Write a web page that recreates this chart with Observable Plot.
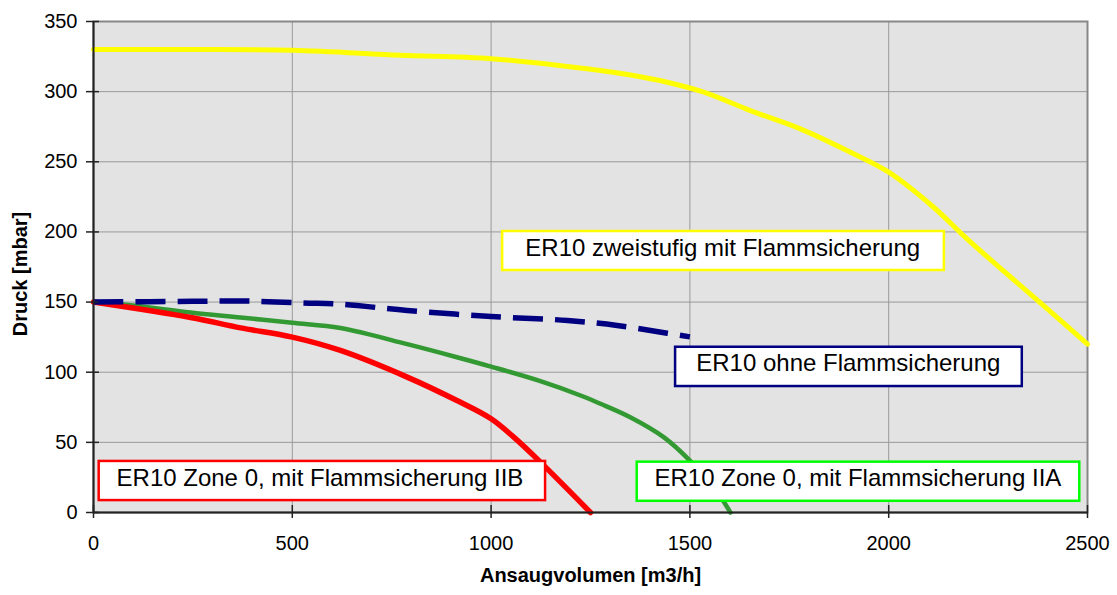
<!DOCTYPE html>
<html><head><meta charset="utf-8">
<script src="https://cdn.jsdelivr.net/npm/d3@7"></script>
<script src="https://cdn.jsdelivr.net/npm/@observablehq/plot@0.6"></script>
<style>
html,body{margin:0;padding:0;background:#fff;}
#chart svg{display:block;}
</style></head><body><div id="chart"></div>
<script>
// Axis ticks
const xTicks = [0, 500, 1000, 1500, 2000, 2500];
const yTicks = [0, 50, 100, 150, 200, 250, 300, 350];
const xTitle = "Ansaugvolumen [m3/h]";
const yTitle = "Druck [mbar]";

// Series: ER10 zweistufig mit Flammsicherung (yellow)
const yellowX = [0, 250, 500, 772, 1000, 1275, 1358, 1443, 1535, 1652, 1778, 1904, 2000, 2113, 2197, 2365, 2500];
const yellowY = [330, 330, 329.5, 326, 323.5, 315, 311.5, 306.7, 299.6, 286.5, 273.5, 256.8, 242.6, 217.6, 195, 153.5, 120];

// Series: ER10 ohne Flammsicherung (navy, dashed)
const blueX = [0, 250, 387, 528, 621, 789, 1000, 1192, 1317, 1443, 1500];
const blueY = [150, 150.5, 150.7, 149.3, 148.5, 144, 139.7, 136.9, 133.3, 127.8, 125.2];

// Series: ER10 Zone 0, mit Flammsicherung IIA (green)
const greenX = [0, 100, 244, 370, 500, 621, 789, 914, 1000, 1124, 1225, 1275, 1350, 1434, 1500, 1560, 1602];
const greenY = [150, 147.5, 142.6, 139, 135.2, 131.5, 120, 110.7, 104, 93.6, 83.4, 77.5, 67.9, 53.7, 37, 18, 0];

// Series: ER10 Zone 0, mit Flammsicherung IIB (red)
const redX = [0, 244, 370, 500, 621, 789, 914, 1000, 1057, 1124, 1250];
const redY = [150, 139, 131.6, 125, 115.5, 96.5, 79.8, 66.8, 53.7, 35.9, 0];

// Label annotations (box extents and text anchor in data units)
const labels = [
  {text: "ER10 zweistufig mit Flammsicherung", color: "#ffff00", x1: 1029, x2: 2140, y1: 172.5, y2: 200.3, tx: 1086, ty: 188},
  {text: "ER10 ohne Flammsicherung", color: "#000080", x1: 1464, x2: 2336, y1: 89.8, y2: 117.8, tx: 1516, ty: 106},
  {text: "ER10 Zone 0, mit Flammsicherung IIB", color: "#ff0000", x1: 14.3, x2: 1137, y1: 8.5, y2: 36.4, tx: 58, ty: 24.7},
  {text: "ER10 Zone 0, mit Flammsicherung IIA", color: "#00ff00", x1: 1367.5, x2: 2480.6, y1: 8, y2: 35.9, tx: 1411, ty: 24.7}
];

const toRows = (X, Y) => X.map((x, i) => ({x, y: Y[i]}));
const yellow = toRows(yellowX, yellowY);
const blue = toRows(blueX, blueY);
const green = toRows(greenX, greenY);
const red = toRows(redX, redY);

const fmt = d => String(d);

const chart = Plot.plot({
  width: 1117,
  height: 595,
  marginLeft: 93,
  marginRight: 30,
  marginTop: 21,
  marginBottom: 83,
  x: {domain: [0, 2500]},
  y: {domain: [0, 350]},
  style: {fontFamily: "'Liberation Sans', Arial, sans-serif", fontSize: "20px", color: "#000", background: "#fff", overflow: "visible"},
  marks: [
    Plot.frame({fill: "#e3e3e3", stroke: null}),
    Plot.gridX(xTicks, {stroke: "#999", strokeOpacity: 1, strokeWidth: 1}),
    Plot.gridY(yTicks, {stroke: "#999", strokeOpacity: 1, strokeWidth: 1}),
    Plot.frame({stroke: "#888", strokeWidth: 2}),
    Plot.line(yellow, {x: "x", y: "y", stroke: "#ffff00", strokeWidth: 5, curve: "catmull-rom"}),
    Plot.line(green, {x: "x", y: "y", stroke: "#339933", strokeWidth: 4.5, curve: "catmull-rom"}),
    Plot.line(red, {x: "x", y: "y", stroke: "#ff0000", strokeWidth: 5.5, curve: "catmull-rom"}),
    Plot.line(blue, {x: "x", y: "y", stroke: "#000080", strokeWidth: 5.5, strokeDasharray: "30,12", strokeLinecap: "butt", curve: "catmull-rom"}),
    Plot.rect(labels, {x1: "x1", x2: "x2", y1: "y1", y2: "y2", fill: "#fff", stroke: d => d.color, strokeWidth: 2.5}),
    Plot.text(labels, {x: "tx", y: "ty", text: "text", textAnchor: "start", fontSize: 24, fill: "#000"}),
    Plot.ruleX([0], {stroke: "#222", strokeWidth: 2}),
    Plot.ruleY([0], {stroke: "#222", strokeWidth: 2}),
    Plot.axisX(xTicks, {tickSize: 13, dy: -7, fill: "none", stroke: "#222", strokeWidth: 1.5, label: null, tickFormat: fmt}),
    Plot.axisX(xTicks, {tickSize: 0, tickPadding: 23, label: null, tickFormat: fmt, fill: "#000"}),
    Plot.axisY(yTicks, {tickSize: 13, dx: 6, fill: "none", stroke: "#222", strokeWidth: 1.5, label: null, tickFormat: fmt}),
    Plot.axisY(yTicks, {tickSize: 0, tickPadding: 16, label: null, tickFormat: fmt, fill: "#000"}),
    Plot.text([xTitle], {text: d => d, frameAnchor: "bottom", dy: 69, fontWeight: "bold", fontSize: 20, textAnchor: "middle", fill: "#000"}),
    Plot.text([yTitle], {text: d => d, frameAnchor: "left", rotate: -90, dx: -73, dy: 7, fontWeight: "bold", fontSize: 20, textAnchor: "middle", fill: "#000"})
  ]
});
document.getElementById("chart").appendChild(chart);
</script>
</body></html>
